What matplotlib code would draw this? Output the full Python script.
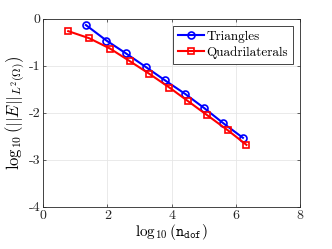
import matplotlib
matplotlib.use("Agg")
import matplotlib.pyplot as plt

plt.rcParams['font.family'] = 'cmr10'
plt.rcParams['mathtext.fontset'] = 'cm'
plt.rcParams['axes.unicode_minus'] = False

# triangles
tri_x = [1.33, 1.97, 2.57, 3.19, 3.80, 4.43, 5.02, 5.61, 6.22]
tri_y = [-0.13, -0.46, -0.73, -1.02, -1.31, -1.60, -1.90, -2.22, -2.53]
# quadrilaterals
quad_x = [0.78, 1.43, 2.08, 2.70, 3.31, 3.93, 4.51, 5.11, 5.75, 6.33]
quad_y = [-0.26, -0.41, -0.63, -0.90, -1.17, -1.46, -1.75, -2.05, -2.37, -2.68]

xticks = [0, 2, 4, 6, 8]
yticks = [-4, -3, -2, -1, 0]

fig = plt.figure(figsize=(3.32, 2.49), dpi=100)
ax = fig.add_axes([0.130, 0.169, 0.774, 0.755])

ax.plot(tri_x, tri_y, color='#0000ff', lw=1.5, marker='o', ms=5,
        mfc='none', mew=1.2, label='Triangles')
ax.plot(quad_x, quad_y, color='#ff0000', lw=1.5, marker='s', ms=4.2,
        mfc='none', mew=1.2, label='Quadrilaterals')

ax.set_xlim(0, 8)
ax.set_ylim(-4, 0)
ax.set_xticks(xticks)
ax.set_xticklabels([str(t) for t in xticks])
ax.set_yticks(yticks)
ax.set_yticklabels([str(t) for t in yticks])
ax.tick_params(direction='in', length=2.5, labelsize=10, colors='#262626',
               top=True, right=True, width=0.5, pad=2)
for s in ax.spines.values():
    s.set_color('#262626')
    s.set_linewidth(0.6)
ax.grid(True, color='#e6e6e6', lw=0.6)
ax.set_axisbelow(True)

ax.set_xlabel(r'$\log_{10}(\mathtt{n}_{\mathtt{dof}})$', fontsize=11, labelpad=0)
ax.set_ylabel(r'$\log_{10}(||E||_{L^2(\Omega)})$', fontsize=12, labelpad=1)

leg = ax.legend(loc='upper right', fontsize=9.5, fancybox=False, framealpha=1,
                edgecolor='#262626', handlelength=2.0, handletextpad=0.2,
                borderpad=0.35, labelspacing=0.25, borderaxespad=0.55)
leg.get_frame().set_linewidth(0.6)

fig.savefig('out.png', dpi=100)
